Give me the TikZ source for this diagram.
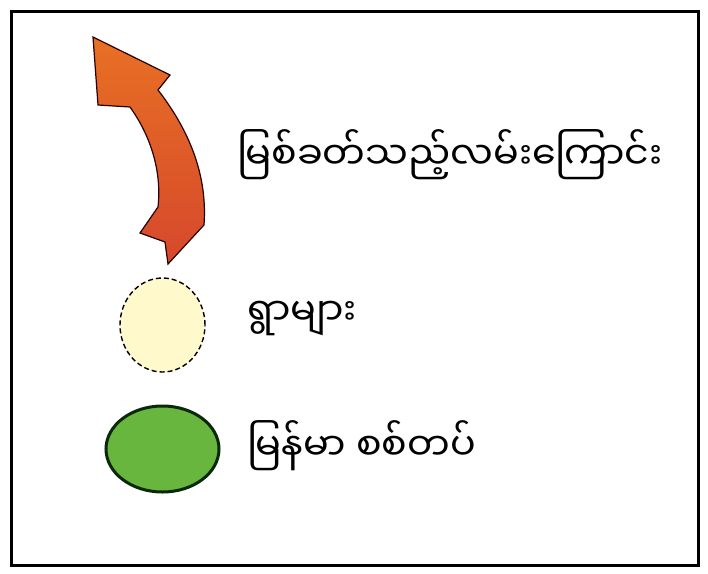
\documentclass[tikz,border=0pt]{standalone}
\usepackage{fontspec}
\newfontfamily\mmfont[Script=Myanmar]{Noto Sans Myanmar UI}
\usetikzlibrary{shapes.geometric}
\definecolor{arrowtop}{RGB}{232,112,36}
\definecolor{arrowbot}{RGB}{214,72,44}
\definecolor{villfill}{RGB}{255,249,204}
\definecolor{armyfill}{RGB}{104,182,62}
\definecolor{armyline}{RGB}{10,40,10}
\tikzset{
  frame/.style={draw=black, line width=3pt},
  bentarrow/.style={draw=black!85!red, line width=1.2pt, top color=arrowtop, bottom color=arrowbot, line join=miter},
  villmark/.style={ellipse, draw=black, line width=1.4pt, dash pattern=on 5pt off 3pt, fill=villfill, inner sep=0pt, minimum width=85pt, minimum height=94pt},
  armymark/.style={ellipse, draw=armyline, line width=3pt, fill=armyfill, inner sep=0pt, minimum width=113pt, minimum height=86pt},
  legtext/.style={anchor=west, inner sep=0pt, font=\mmfont\fontsize{38}{44}\selectfont}
}
\begin{document}
\begin{tikzpicture}[x=1pt,y=-1pt]
\useasboundingbox (0,0) rectangle (708,573);
\fill[white] (0,0) rectangle (708,573);
\draw[frame] (11,11) rectangle (698,565);
% curved arrow
\path[bentarrow] (93,37) -- (170,75) -- (158,90)
  .. controls (185,125) and (208,170) .. (204,225)
  -- (168,264) -- (165,242) -- (140,233) -- (158,207)
  .. controls (162,170) and (150,135) .. (130,107)
  -- (98,105) -- cycle;
\node[villmark] (vill) at (162.5,325) {};
\node[armymark] (army) at (162.5,449) {};
\node[legtext] (t1) at (237,155) {မြစ်ခတ်သည့်လမ်းကြောင်း};
\node[legtext] (t2) at (247,318) {ရွာများ};
\node[legtext] (t3) at (247,446) {မြန်မာ စစ်တပ်};
\end{tikzpicture}
\end{document}
